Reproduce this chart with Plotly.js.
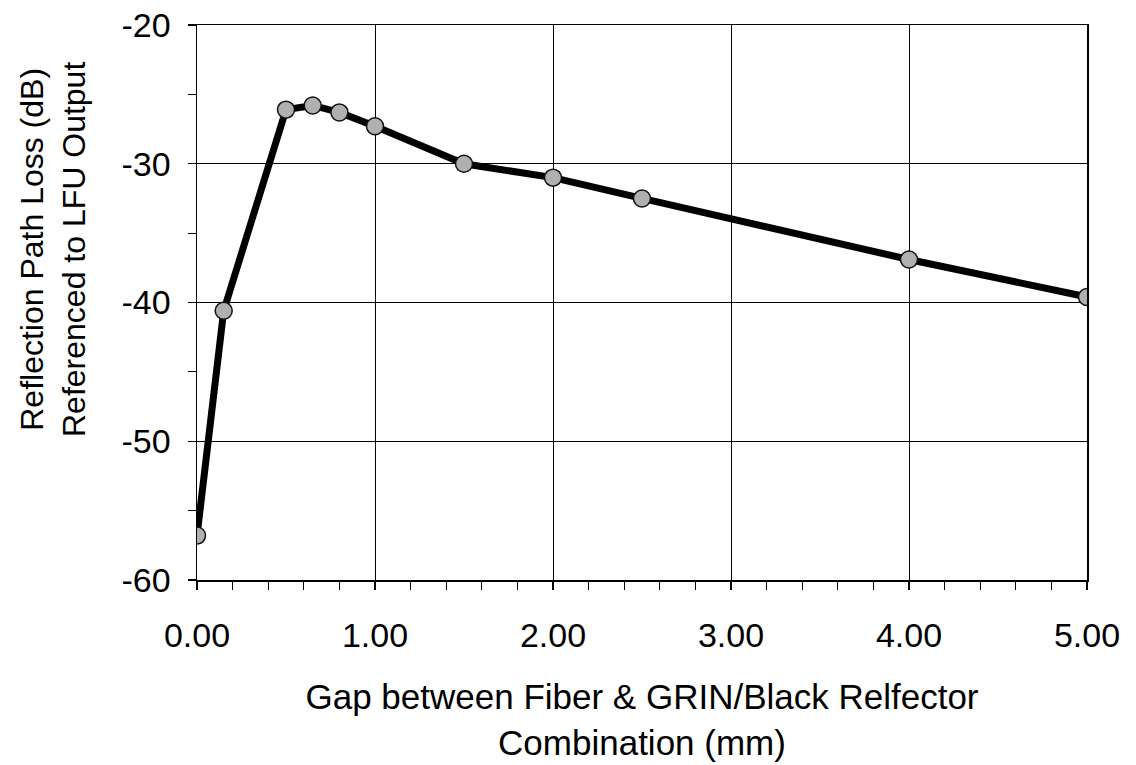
<!DOCTYPE html>
<html>
<head>
<meta charset="utf-8">
<script src="https://cdn.plot.ly/plotly-3.0.1.min.js"></script>
<style>html,body{margin:0;padding:0;background:#fff;}#chart{width:1136px;height:765px;}</style>
</head>
<body>
<div id="chart"></div>
<script>
const gapMm = [0.00, 0.15, 0.50, 0.65, 0.80, 1.00, 1.50, 2.00, 2.50, 4.00, 5.00];
const lossDb = [-56.8, -40.6, -26.1, -25.8, -26.3, -27.3, -30.0, -31.0, -32.5, -36.9, -39.6];
const xTickVals = [0, 1, 2, 3, 4, 5];
const xTickText = ["0.00", "1.00", "2.00", "3.00", "4.00", "5.00"];
const yTickVals = [-60, -50, -40, -30, -20];
const yTickText = ["-60", "-50", "-40", "-30", "-20"];
const xTitle = "Gap between Fiber & GRIN/Black Relfector<br>Combination (mm)";
const yTitle = "Reflection Path Loss (dB)<br>Referenced to LFU Output";

const FONT = "Liberation Sans, Arial, sans-serif";

const trace = {
  x: gapMm, y: lossDb, type: 'scatter', mode: 'lines+markers',
  line: {color: '#000', width: 7},
  marker: {size: 17, color: '#b0b0b0', line: {color: '#111', width: 1.5}},
  hoverinfo: 'x+y'
};

const layout = {
  width: 1136, height: 765,
  margin: {l: 197, r: 49, t: 25, b: 185},
  paper_bgcolor: '#fff', plot_bgcolor: '#fff',
  showlegend: false,
  font: {family: FONT, color: '#000', size: 34},
  xaxis: {
    range: [0, 5], tickvals: xTickVals, ticktext: xTickText,
    ticks: 'outside', ticklen: 8, tickwidth: 1.2, tickcolor: '#000',
    ticklabelstandoff: 17,
    showgrid: true, gridcolor: '#000', gridwidth: 1,
    showline: true, linecolor: '#000', linewidth: 1.5, mirror: true,
    zeroline: false,
    minor: {dtick: 0.2, ticks: 'outside', ticklen: 8, tickwidth: 1.2, tickcolor: '#000', showgrid: false},
    tickfont: {family: FONT, size: 34, color: '#000'},
    title: {text: xTitle, font: {family: FONT, size: 35, color: '#000'}, standoff: 31}
  },
  yaxis: {
    range: [-60, -20], tickvals: yTickVals, ticktext: yTickText,
    ticks: 'outside', ticklen: 8, tickwidth: 1.2, tickcolor: '#000',
    ticklabelstandoff: 10,
    showgrid: true, gridcolor: '#000', gridwidth: 1,
    showline: true, linecolor: '#000', linewidth: 1.5, mirror: true,
    zeroline: false,
    minor: {dtick: 5, ticks: 'outside', ticklen: 8, tickwidth: 1.2, tickcolor: '#000', showgrid: false},
    tickfont: {family: FONT, size: 34, color: '#000'}
  },
  annotations: [{
    text: yTitle, xref: 'paper', yref: 'paper',
    x: (53 - 197) / 890, y: (580 - 250) / 555,
    xanchor: 'center', yanchor: 'middle', textangle: -90, showarrow: false,
    font: {family: FONT, size: 32, color: '#000'}
  }]
};

Plotly.newPlot('chart', [trace], layout, {displayModeBar: false, staticPlot: true});
</script>
</body>
</html>
